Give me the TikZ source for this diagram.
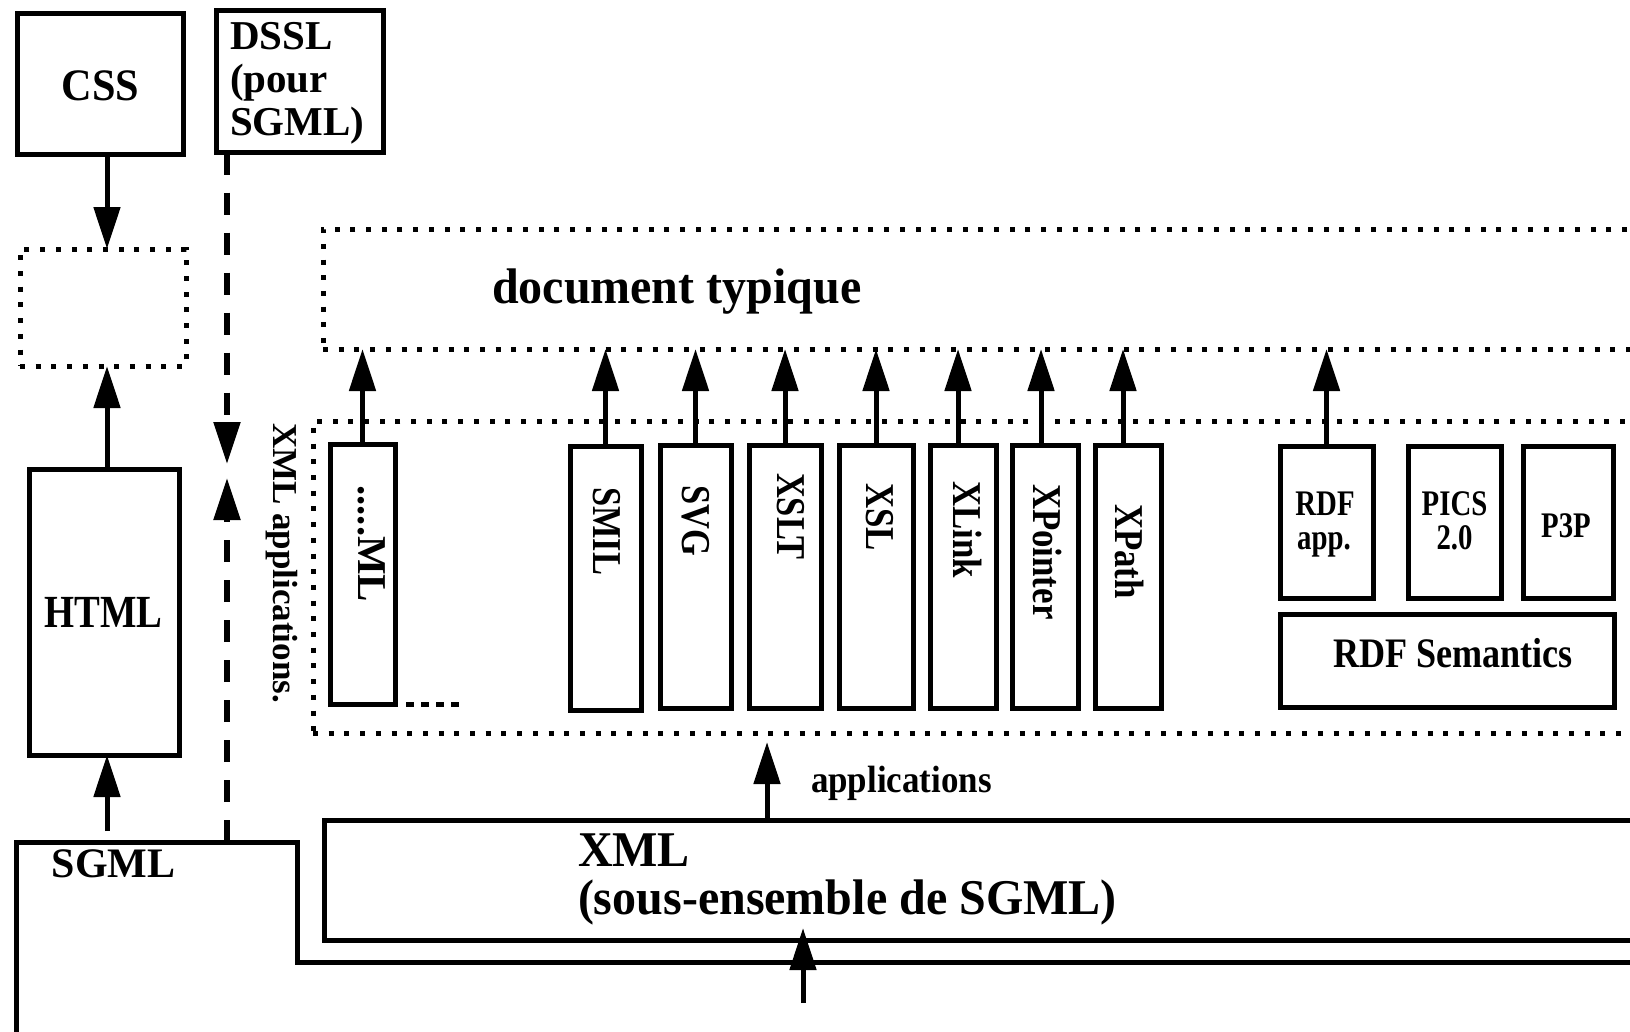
\documentclass[tikz,border=0pt]{standalone}
\usepackage{graphicx}
\usepackage{fontspec}
\setmainfont{Liberation Serif}
\usetikzlibrary{arrows.meta}
% bold label: size, horizontal squeeze, text
\newcommand\fs[3]{\scalebox{#2}[1]{\fontsize{#1}{#1}\selectfont\bfseries #3}}
\tikzset{
  solidbox/.style={draw, line width=5pt, inner sep=0pt, outer sep=0pt},
  dotbox/.style={draw, line width=5pt, inner sep=0pt, outer sep=0pt,
                 dash pattern=on 5pt off 10.7pt},
  arr/.style={line width=5pt, -{Triangle[length=42pt,width=26pt]}},
  dasharr/.style={arr, line width=5.5pt, dash pattern=on 22pt off 18pt},
  lbl/.style={inner sep=0pt, outer sep=0pt},
}
\begin{document}
\begin{tikzpicture}[x=1pt, y=-1pt]
\useasboundingbox (0,0) rectangle (1630,1031);
\clip (0,0) rectangle (1630,1031);

% ---- left column: CSS / HTML / SGML ----
\node[solidbox, minimum width=166pt, minimum height=141pt] (css) at (100.5,84) {};
\node[lbl, anchor=base] (csst) at (100.5,100) {\fs{45}{0.94}{CSS}};
\node[dotbox, minimum width=166pt, minimum height=117pt] (empty) at (103,307.5) {};
\node[solidbox, minimum width=150pt, minimum height=286pt] (html) at (104,612) {};
\node[lbl, anchor=base] (htmlt) at (103.5,627) {\fs{46}{0.84}{HTML}};

\coordinate (colA) at (107,0);
\coordinate (sgA) at (107,831);
\draw[arr] (css.south -| colA) -- (empty.north -| colA);
\draw[arr] (html.north -| colA) -- (empty.south -| colA);
\draw[arr] (sgA) -- (html.south -| colA);

% SGML outline
\draw[line width=5pt] (16,1045) |- (297,842) |- (1700,962);
\node[lbl, anchor=base] (sgmlt) at (113.5,877) {\fs{42}{1}{SGML}};

% ---- DSSL ----
\node[solidbox, minimum width=167.5pt, minimum height=142pt] (dssl) at (300,81.5) {};
\node[lbl, anchor=base west] (dsslA) at (230,49) {\fs{41}{1}{DSSL}};
\node[lbl, anchor=base west] (dsslB) at (230,92) {\fs{41}{1}{(pour}};
\node[lbl, anchor=base west] (dsslC) at (230,135) {\fs{41}{1}{SGML)}};
\coordinate (colB) at (227,0);
\coordinate (midA) at (227,464);
\coordinate (midB) at (227,478);
\coordinate (sgB) at (227,842);
\draw[dasharr] (dssl.south -| colB) -- (midA);
\draw[dasharr] (sgB) -- (midB);

% ---- document typique ----
\node[dotbox, minimum width=1377pt, minimum height=120pt] (doc) at (1011.5,289) {};
\node[lbl, anchor=base west] (doct) at (492,303) {\fs{50}{0.96}{document typique}};

% ---- XML applications ----
\node[dotbox, minimum width=1387pt, minimum height=312pt] (apps) at (1006.5,577) {};
\node[lbl, rotate=-90, anchor=base west] (appst) at (273,423) {\fs{35}{1}{XML applications.}};

\node[solidbox, minimum width=65pt, minimum height=260pt] (ml) at (362.5,574) {};
\node[solidbox, minimum width=71pt, minimum height=264pt] (smil) at (605.5,578) {};
\node[solidbox, minimum width=71pt, minimum height=263pt] (svg) at (695.5,576.5) {};
\node[solidbox, minimum width=72pt, minimum height=263pt] (xslt) at (785,576.5) {};
\node[solidbox, minimum width=74pt, minimum height=263pt] (xsl) at (876,576.5) {};
\node[solidbox, minimum width=66pt, minimum height=263pt] (xlink) at (963,576.5) {};
\node[solidbox, minimum width=66pt, minimum height=263pt] (xpointer) at (1045,576.5) {};
\node[solidbox, minimum width=66pt, minimum height=263pt] (xpath) at (1128,576.5) {};

\node[lbl, rotate=-90, anchor=base west] (mlt) at (358,485) {\fs{41}{1}{.....ML}};
\node[lbl, rotate=-90, anchor=base west] (smilt) at (593,487) {\fs{41}{0.84}{SMIL}};
\node[lbl, rotate=-90, anchor=base west] (svgt) at (682,485) {\fs{41}{0.84}{SVG}};
\node[lbl, rotate=-90, anchor=base west] (xsltt) at (777,473) {\fs{41}{0.84}{XSLT}};
\node[lbl, rotate=-90, anchor=base west] (xslt2) at (866,483) {\fs{41}{0.85}{XSL}};
\node[lbl, rotate=-90, anchor=base west] (xlinkt) at (953,481) {\fs{41}{0.85}{XLink}};
\node[lbl, rotate=-90, anchor=base west] (xpointert) at (1033,484) {\fs{41}{0.85}{XPointer}};
\node[lbl, rotate=-90, anchor=base west] (xpatht) at (1115,504) {\fs{41}{0.85}{XPath}};

% trailing dashes: more applications
\coordinate (mlTail) at (406,704);
\draw[line width=5pt, dash pattern=on 8pt off 7pt] (mlTail) -- ++(53,0);

% RDF family
\node[solidbox, minimum width=93pt, minimum height=152pt] (rdfapp) at (1326.5,522) {};
\node[solidbox, minimum width=93pt, minimum height=152pt] (pics) at (1454.5,522) {};
\node[solidbox, minimum width=90pt, minimum height=152pt] (p3p) at (1568,522) {};
\node[solidbox, minimum width=334pt, minimum height=93pt] (rdfsem) at (1447,660.5) {};
\node[lbl, anchor=base] (rdfappA) at (1325,515) {\fs{36}{0.8}{RDF}};
\node[lbl, anchor=base] (rdfappB) at (1324,549) {\fs{36}{0.8}{app.}};
\node[lbl, anchor=base] (picsA) at (1454.5,515) {\fs{36}{0.8}{PICS}};
\node[lbl, anchor=base] (picsB) at (1454.5,549) {\fs{36}{0.8}{2.0}};
\node[lbl, anchor=base] (p3pt) at (1566,537) {\fs{36}{0.8}{P3P}};
\node[lbl, anchor=base] (rdfsemt) at (1453,667) {\fs{42}{0.86}{RDF Semantics}};

% arrows into the typical document
\coordinate (xlinkTop) at ([xshift=-5pt]xlink.north);
\coordinate (xpointerTop) at ([xshift=-4pt]xpointer.north);
\coordinate (xpathTop) at ([xshift=-5pt]xpath.north);
\foreach \b in {ml, smil, svg, xslt, xsl, rdfapp}
  \draw[arr] (\b.north) -- (\b.north |- doc.south);
\foreach \b in {xlinkTop, xpointerTop, xpathTop}
  \draw[arr] (\b) -- (\b |- doc.south);

% ---- XML ----
\node[solidbox, minimum width=1376pt, minimum height=119.5pt] (xml) at (1012,880.25) {};
\node[lbl, anchor=base west] (xmlA) at (578,866) {\fs{50}{0.96}{XML}};
\node[lbl, anchor=base west] (xmlB) at (578,914) {\fs{50}{0.96}{(sous-ensemble de SGML)}};

\coordinate (colC) at (767,0);
\coordinate (appsTip) at (767,742);
\draw[arr] (xml.north -| colC) -- (appsTip);
\node[lbl, anchor=base west] (applt) at (811,792) {\fs{38}{0.92}{applications}};

\coordinate (inA) at (803,1003);
\coordinate (inTip) at (803,928);
\draw[arr] (inA) -- (inTip);
\end{tikzpicture}
\end{document}
